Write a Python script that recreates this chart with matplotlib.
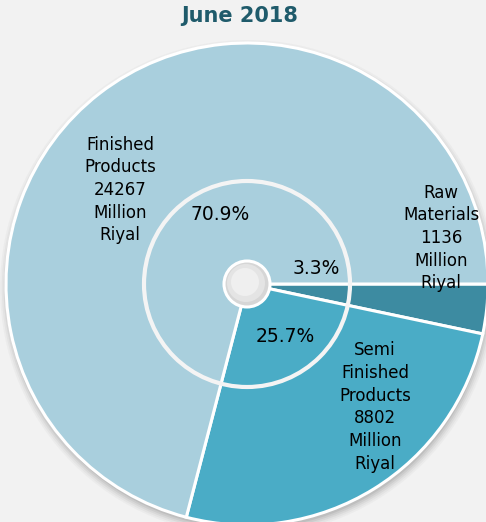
import matplotlib
matplotlib.use("Agg")
from matplotlib import pyplot as plt
from matplotlib.patches import Circle

# data
categories = ["Raw Materials", "Semi Finished Products", "Finished Products"]
values = [1136, 8802, 24267]
colors = ["#3d8ba1", "#4aacc6", "#a9cfdd"]
pct_labels = ["3.3%", "25.7%", "70.9%"]

W, H = 486, 522
fig = plt.figure(figsize=(W / 100, H / 100), dpi=100, facecolor="#f2f2f2")
ax = fig.add_axes([0, 0, 1, 1])
ax.set_facecolor("#f2f2f2")
ax.axis("off")

cx, cy, R = 247, H - 284, 241

# soft shadow under the pie
for i, a in enumerate([0.04, 0.05, 0.07, 0.09, 0.11]):
    ax.add_patch(Circle((cx + 1, cy - 4), R + 7 - i * 1.8, color="#555555",
                        alpha=a, lw=0, zorder=1))

wedges, _ = ax.pie(values, colors=colors, radius=R, center=(cx, cy),
                   startangle=0, counterclock=False,
                   wedgeprops=dict(edgecolor="white", linewidth=2.2))
for w in wedges:
    w.set_zorder(2)
ax.set_xlim(0, W)
ax.set_ylim(0, H)
ax.set_aspect("auto")

# inner ring and hole
ax.add_patch(Circle((cx, cy), 103, fill=False, edgecolor="#f4f4f4", lw=3, zorder=3))
ax.add_patch(Circle((cx, cy), 23, facecolor="#d6d6d6", edgecolor="white", lw=2.2, zorder=4))
ax.add_patch(Circle((cx - 1, cy + 1), 19, facecolor="#e4e4e4", lw=0, zorder=4))
ax.add_patch(Circle((cx - 2, cy + 2), 14, facecolor="#efefef", lw=0, zorder=4))

font = "DejaVu Sans"
ax.text(240, H - 16, "June 2018", ha="center", va="center", fontsize=15,
        fontweight="bold", color="#1f5b6b", family=font)

# percentage labels
ax.text(316, H - 268, pct_labels[0], ha="center", va="center", fontsize=13.5, family=font, zorder=5)
ax.text(285, H - 336, pct_labels[1], ha="center", va="center", fontsize=13.5, family=font, zorder=5)
ax.text(220, H - 215, pct_labels[2], ha="center", va="center", fontsize=13.5, family=font, zorder=5)

# outer labels
kw = dict(ha="center", va="center", fontsize=12, linespacing=1.33, family=font, zorder=5)
ax.text(441, H - 238, "Raw\nMaterials\n%d\nMillion\nRiyal" % values[0], **kw)
ax.text(375, H - 407, "Semi\nFinished\nProducts\n%d\nMillion\nRiyal" % values[1], **kw)
ax.text(120, H - 190, "Finished\nProducts\n%d\nMillion\nRiyal" % values[2], **kw)

fig.savefig("out.png", dpi=100, facecolor=fig.get_facecolor())
